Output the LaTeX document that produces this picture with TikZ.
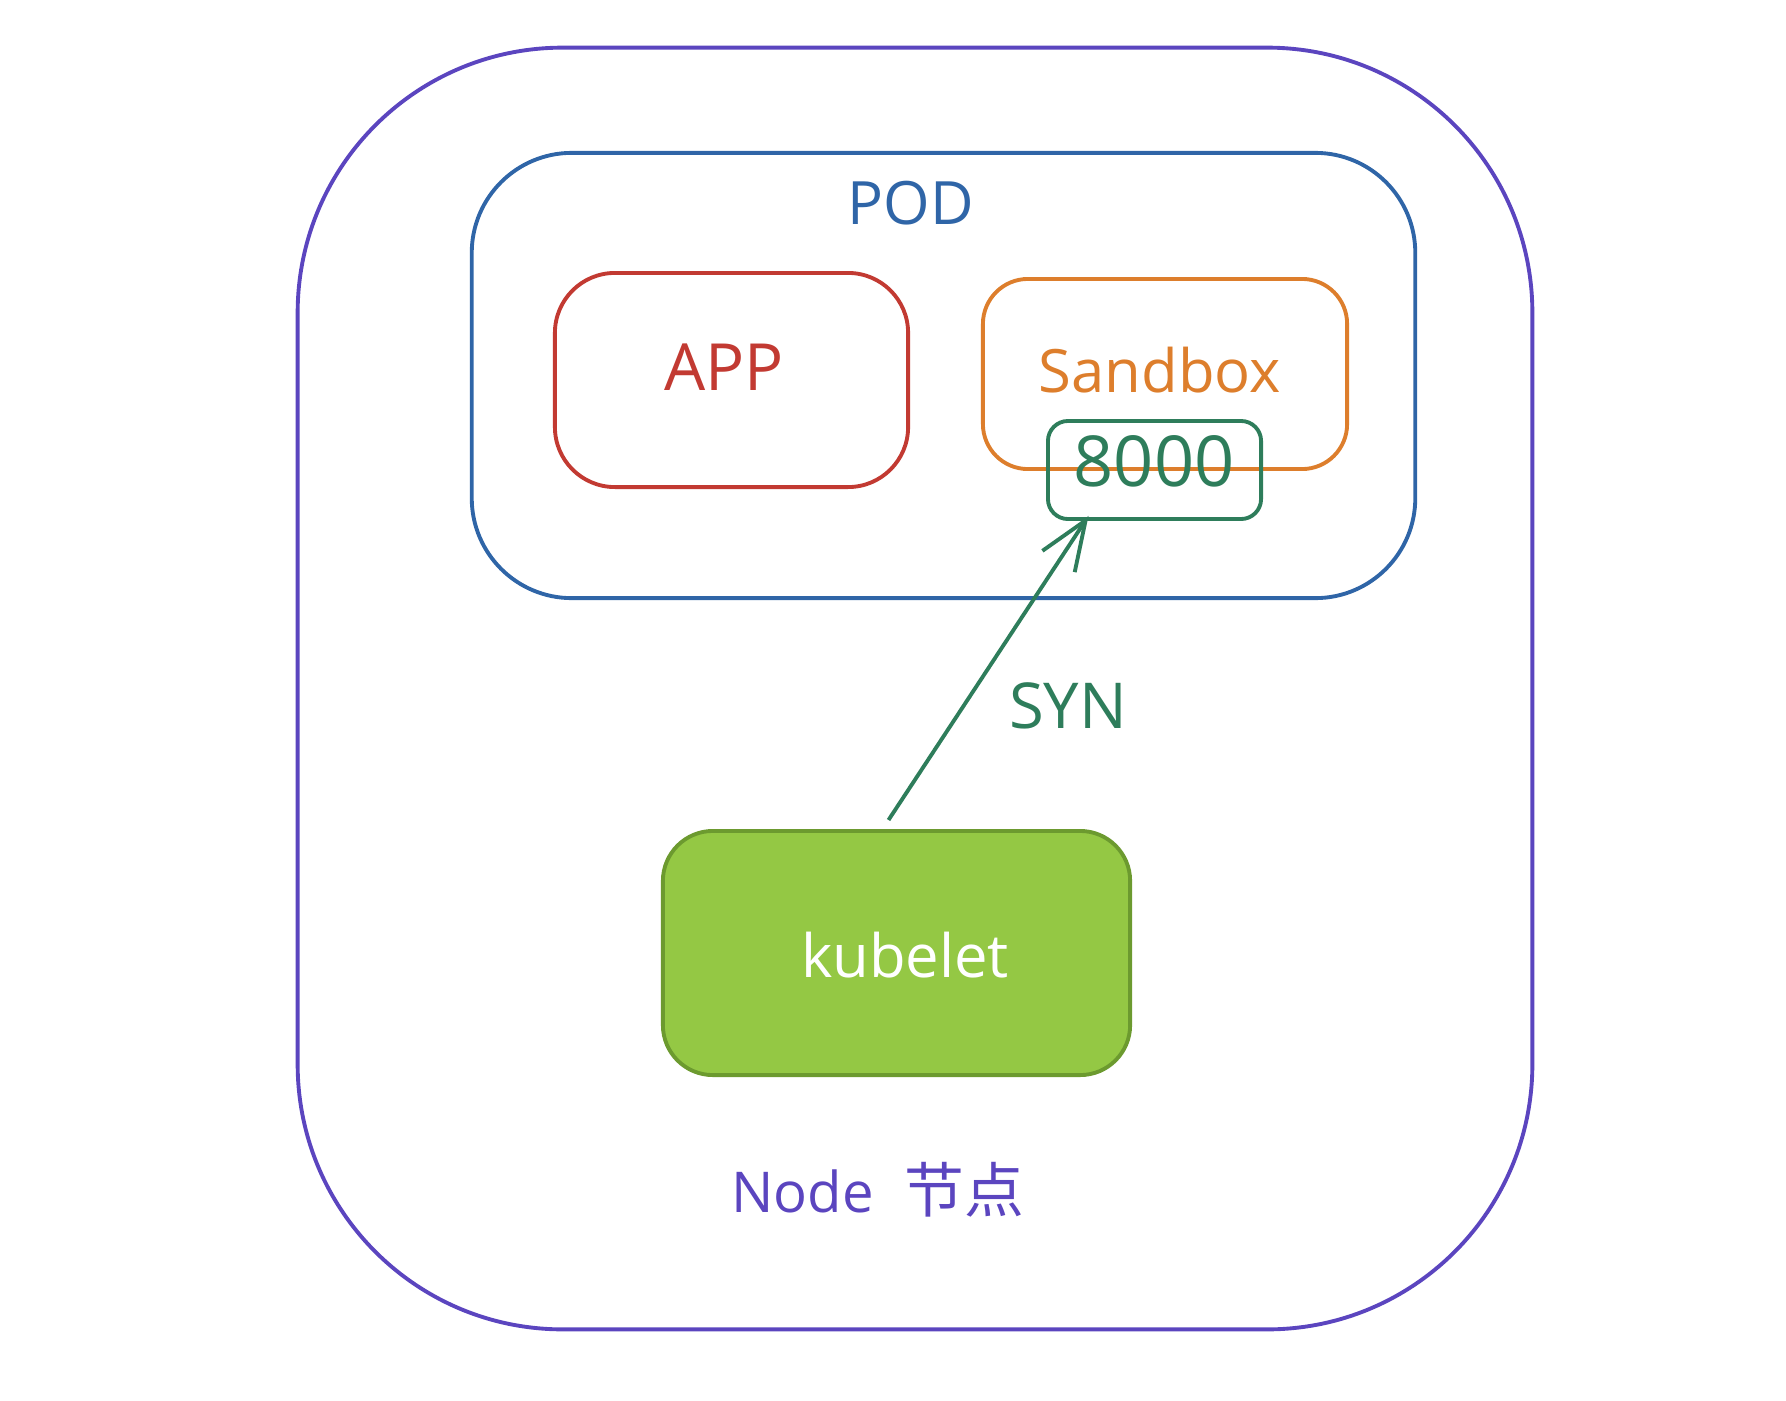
\documentclass[tikz,border=0pt]{standalone}
\usepackage{fontspec}
\setmainfont{Open Sans}
\newfontfamily\cjk{Noto Sans CJK SC}
\usetikzlibrary{arrows.meta}
\definecolor{cviolet}{HTML}{5B45BF}
\definecolor{cblue}{HTML}{2F65A7}
\definecolor{cred}{HTML}{C23A32}
\definecolor{corange}{HTML}{DD7E2C}
\definecolor{cteal}{HTML}{2E7D5B}
\definecolor{ckfill}{HTML}{94C844}
\definecolor{ckline}{HTML}{6C9A2F}
\tikzset{
  box/.style={draw, rectangle, inner sep=0pt, line width=1.1pt},
  lbl/.style={inner sep=0pt, font=\fontsize{18}{20}\selectfont},
  arr/.style={draw=cteal, line width=1.1pt, -{Straight Barb[length=14pt,width=11pt,line width=1.1pt]}}
}
\begin{document}
\begin{tikzpicture}[x=0.01cm,y=-0.01cm]
\useasboundingbox (0,0) rectangle (1786,1400);
% outer node frame
\node[box, draw=cviolet, minimum width=12.34cm, minimum height=12.81cm, rounded corners=2.65cm] (outer) at (915,688.5) {};
% pod
\node[box, draw=cblue, minimum width=9.43cm, minimum height=4.45cm, rounded corners=1.0cm] (pod) at (943.5,375.5) {};
\node[lbl, text=cblue, font=\fontsize{17}{19}\selectfont] (podt) at (911,203) {POD};
% app
\node[box, draw=cred, minimum width=3.53cm, minimum height=2.14cm, rounded corners=0.6cm] (app) at (731.5,380) {};
\node[lbl, text=cred, font=\fontsize{18.5}{21}\selectfont] (appt) at (724,367) {APP};
% sandbox
\node[box, draw=corange, minimum width=3.64cm, minimum height=1.90cm, rounded corners=0.45cm] (sb) at (1165,374) {};
\node[lbl, text=corange, font=\fontsize{17}{19}\selectfont] (sbt) at (1160,370) {Sandbox};
% port
\node[box, draw=cteal, minimum width=2.13cm, minimum height=0.98cm, rounded corners=0.2cm] (port) at (1154.5,470) {};
\node[lbl, text=cteal, font=\fontsize{20}{22}\selectfont] (portt) at (1154,461) {8000};
% kubelet
\node[box, draw=ckline, fill=ckfill, minimum width=4.67cm, minimum height=2.44cm, rounded corners=0.5cm] (kub) at (896.5,953) {};
\node[lbl, text=white, font=\fontsize{17}{19}\selectfont] (kubt) at (905,955) {kubelet};
% arrow
\draw[arr] ([shift={(-8,-9)}]kub.north) -- ([shift={(-66,-5)}]port.south);
\node[lbl, text=cteal] (syn) at (1068,706) {SYN};
% node label
\node[lbl, text=cviolet, font=\fontsize{16}{18}\selectfont] (nodet) at (878,1190) {Node\hspace{0.55em}{\cjk\fontsize{17}{19}\selectfont 节点}};
\end{tikzpicture}
\end{document}
